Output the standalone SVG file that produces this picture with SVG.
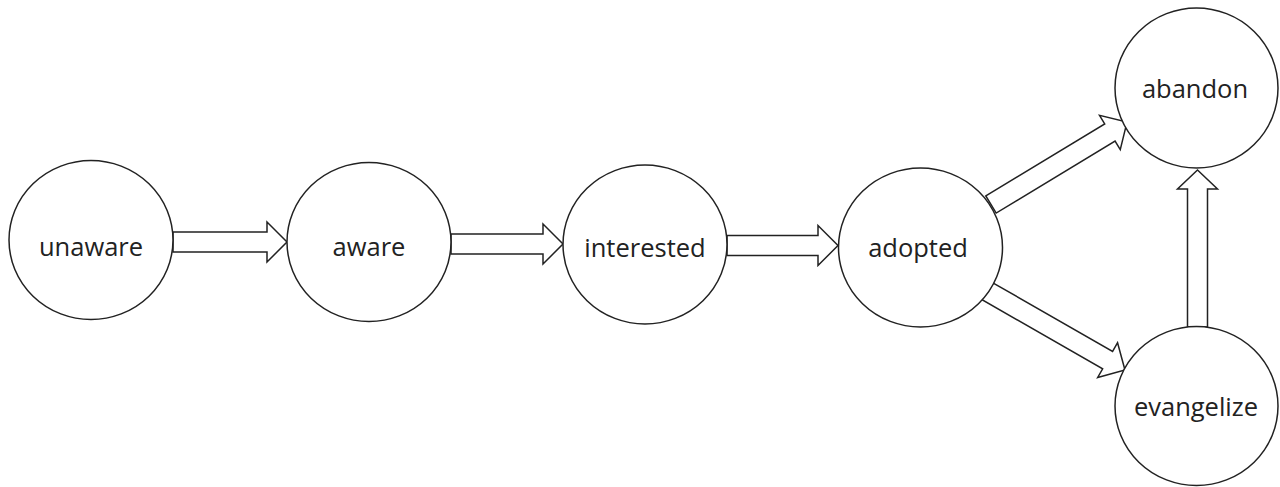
<svg xmlns="http://www.w3.org/2000/svg" width="1280" height="487" viewBox="0 0 1280 487">
<style>
.node{fill:#fff;stroke:#222;stroke-width:1.5}
.lbl{font-family:"Open Sans","Noto Sans",sans-serif;font-size:25.5px;fill:#222;text-anchor:middle}
.arr{fill:#fff;stroke:#222;stroke-width:1.5;stroke-linejoin:miter}
</style>
<defs>
<path id="a114" d="M0,-10 H94 V-20 L114,0 L94,20 V10 H0 Z"/>
<path id="a112" d="M0,-10 H92 V-20 L112,0 L92,20 V10 H0 Z"/>
<path id="a111" d="M0,-10 H91 V-20 L111,0 L91,20 V10 H0 Z"/>
<path id="a159" d="M0,-10 H139 V-20 L159,0 L139,20 V10 H0 Z"/>
<path id="a157" d="M0,-10 H138 V-20 L157,0 L138,20 V10 H0 Z"/>
</defs>
<rect width="1280" height="487" fill="#fff"/>
<g id="connectors">
<use href="#a114" class="arr" transform="translate(173,242)"/>
<use href="#a112" class="arr" transform="translate(451,244)"/>
<use href="#a111" class="arr" transform="translate(727,245.5)"/>
<use href="#a159" class="arr" transform="translate(991,204.5) rotate(-31.2)"/>
<use href="#a159" class="arr" transform="translate(987,291) rotate(29.8)"/>
<use href="#a157" class="arr" transform="translate(1197.5,327) rotate(-90)"/>
</g>
<g id="unaware"><ellipse class="node" cx="91" cy="240" rx="82" ry="79.5"/><text class="lbl" x="91" y="256">unaware</text></g>
<g id="aware"><ellipse class="node" cx="369" cy="242" rx="82" ry="79.5"/><text class="lbl" x="369" y="256">aware</text></g>
<g id="interested"><ellipse class="node" cx="645" cy="244.5" rx="82" ry="79.5"/><text class="lbl" x="645" y="257">interested</text></g>
<g id="adopted"><ellipse class="node" cx="920.5" cy="247.5" rx="82" ry="79.5"/><text class="lbl" x="918" y="257">adopted</text></g>
<g id="abandon"><ellipse class="node" cx="1196.5" cy="88" rx="81.5" ry="80"/><text class="lbl" x="1195" y="98">abandon</text></g>
<g id="evangelize"><ellipse class="node" cx="1196.5" cy="406" rx="81.5" ry="79.5"/><text class="lbl" x="1196" y="416">evangelize</text></g>
</svg>
